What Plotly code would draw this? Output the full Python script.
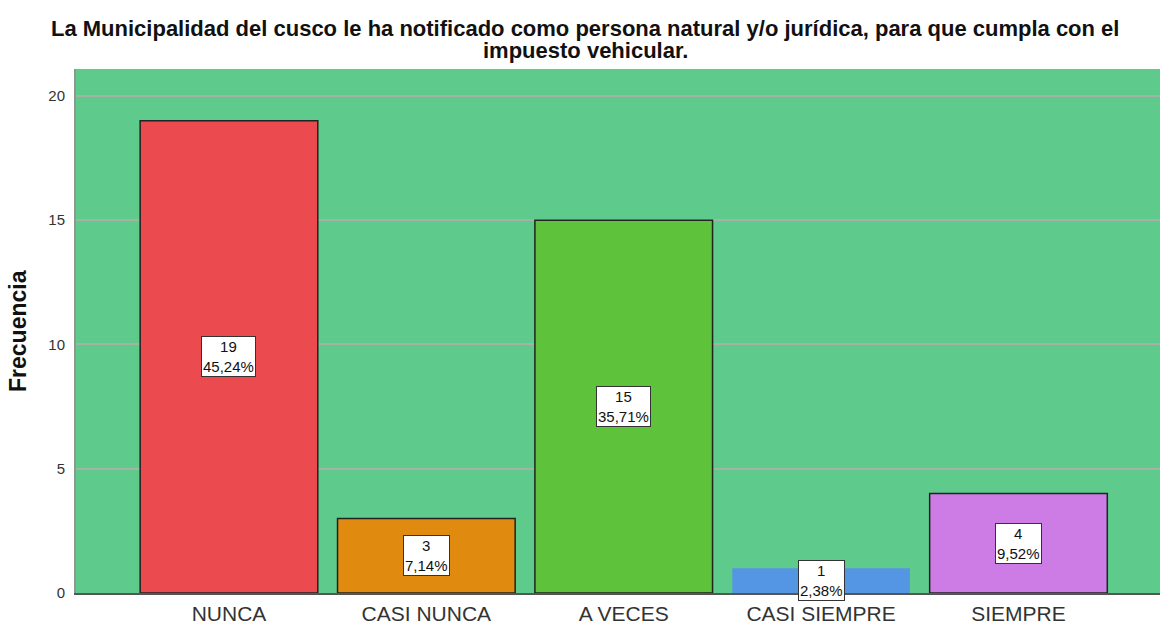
import plotly.graph_objects as go

categories = ["NUNCA", "CASI NUNCA", "A VECES", "CASI SIEMPRE", "SIEMPRE"]
counts = [19, 3, 15, 1, 4]
percents = ["45,24%", "7,14%", "35,71%", "2,38%", "9,52%"]
colors = ["#EB4B4E", "#E08A10", "#5EC23A", "#5596E4", "#CC7CE4"]
outline_widths = [1.5, 1.5, 1.5, 0, 1.5]
y_ticks = [0, 5, 10, 15, 20]

title_line1 = "La Municipalidad del cusco le ha notificado como persona natural y/o jurídica, para que cumpla con el"
title_line2 = "impuesto vehicular."
y_title = "Frecuencia"

FONT = "Liberation Sans, Arial, sans-serif"

fig = go.Figure()
fig.add_trace(go.Bar(
    x=categories,
    y=counts,
    width=0.9,
    marker=dict(color=colors, line=dict(color="#222222", width=outline_widths)),
    hoverinfo="x+y",
))

annotations = []
for c, v, p in zip(categories, counts, percents):
    annotations.append(dict(
        x=c, y=v / 2, xref="x", yref="y",
        text=f"{v}<br>{p}", showarrow=False,
        font=dict(family=FONT, size=15, color="#111111"),
        bgcolor="white", bordercolor="#333333", borderwidth=1, borderpad=1,
        align="center",
    ))

annotations.append(dict(
    x=0.4696, y=1.078, xref="paper", yref="paper", xanchor="center", yanchor="middle",
    text=f"<b>{title_line1}</b>", showarrow=False,
    font=dict(family=FONT, size=22, color="#111111"),
))
annotations.append(dict(
    x=0.4696, y=1.0345, xref="paper", yref="paper", xanchor="center", yanchor="middle",
    text=f"<b>{title_line2}</b>", showarrow=False,
    font=dict(family=FONT, size=22, color="#111111"),
))
annotations.append(dict(
    x=-0.0535, y=0.5, xref="paper", yref="paper", xanchor="center", yanchor="middle",
    text=f"<b>{y_title}</b>", showarrow=False, textangle=-90,
    font=dict(family=FONT, size=23, color="#111111"),
))

fig.update_layout(
    width=1160, height=625,
    margin=dict(l=76, r=0, t=69, b=29, pad=0),
    paper_bgcolor="white",
    plot_bgcolor="#5ECA8C",
    showlegend=False,
    annotations=annotations,
    font=dict(family=FONT),
)
fig.update_xaxes(
    type="category",
    range=[-0.775, 4.717],
    showgrid=False,
    showline=True, linecolor="#555555", linewidth=1.5,
    ticks="", ticklabelstandoff=1,
    tickfont=dict(family=FONT, size=21, color="#333333"),
    fixedrange=True,
)
fig.update_yaxes(
    range=[0, 21.08],
    tickvals=y_ticks,
    ticktext=[str(t) for t in y_ticks],
    showgrid=True, gridcolor="#A3B3A6", gridwidth=1.5,
    zeroline=False,
    showline=True, linecolor="#8A9A8E", linewidth=2,
    ticks="", ticklabelstandoff=6,
    tickfont=dict(family=FONT, size=15, color="#333333"),
    fixedrange=True,
)

fig.write_html(
    "out.html",
    config={"displayModeBar": False},
    post_script="document.body.style.margin='0px';document.body.style.overflow='hidden';",
)
